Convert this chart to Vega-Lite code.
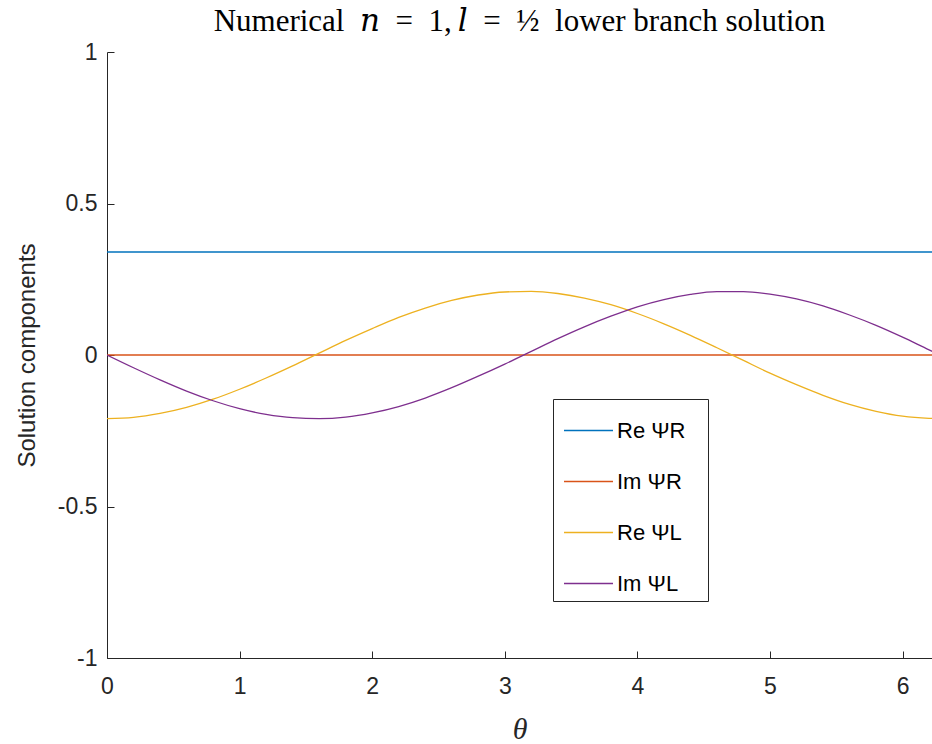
{
  "$schema": "https://vega.github.io/schema/vega-lite/v6.json",
  "width": 825,
  "height": 606,
  "autosize": {"type": "none"},
  "padding": {"left": 107, "top": 52, "right": 0, "bottom": 86},
  "background": "white",
  "config": {
    "view": {"stroke": null},
    "font": "Liberation Sans"
  },
  "title": {
    "text": "Numerical\u2002𝑛\u2002=\u20021,\u2009𝑙\u2002=\u2002½\u2002lower branch solution",
    "font": "Liberation Serif, DejaVu Serif",
    "fontSize": 31,
    "fontWeight": "normal",
    "color": "#000000",
    "anchor": "middle",
    "offset": 3
  },
  "data": {
    "values": [
      {"theta": 0, "value": 0.34, "series": "Re ΨR"},
      {"theta": 6.2832, "value": 0.34, "series": "Re ΨR"},
      {"theta": 0, "value": 0, "series": "Im ΨR"},
      {"theta": 6.2832, "value": 0, "series": "Im ΨR"},
      {"theta": 0, "value": -0.21, "series": "Re ΨL"},
      {"theta": 0.2, "value": -0.206, "series": "Re ΨL"},
      {"theta": 0.4, "value": -0.193, "series": "Re ΨL"},
      {"theta": 0.6, "value": -0.173, "series": "Re ΨL"},
      {"theta": 0.8, "value": -0.146, "series": "Re ΨL"},
      {"theta": 1.0, "value": -0.113, "series": "Re ΨL"},
      {"theta": 1.2, "value": -0.076, "series": "Re ΨL"},
      {"theta": 1.4, "value": -0.036, "series": "Re ΨL"},
      {"theta": 1.6, "value": 0.006, "series": "Re ΨL"},
      {"theta": 1.8, "value": 0.048, "series": "Re ΨL"},
      {"theta": 2.0, "value": 0.087, "series": "Re ΨL"},
      {"theta": 2.2, "value": 0.124, "series": "Re ΨL"},
      {"theta": 2.4, "value": 0.155, "series": "Re ΨL"},
      {"theta": 2.6, "value": 0.180, "series": "Re ΨL"},
      {"theta": 2.8, "value": 0.198, "series": "Re ΨL"},
      {"theta": 3.0, "value": 0.208, "series": "Re ΨL"},
      {"theta": 3.2, "value": 0.210, "series": "Re ΨL"},
      {"theta": 3.4, "value": 0.203, "series": "Re ΨL"},
      {"theta": 3.6, "value": 0.188, "series": "Re ΨL"},
      {"theta": 3.8, "value": 0.166, "series": "Re ΨL"},
      {"theta": 4.0, "value": 0.137, "series": "Re ΨL"},
      {"theta": 4.2, "value": 0.103, "series": "Re ΨL"},
      {"theta": 4.4, "value": 0.065, "series": "Re ΨL"},
      {"theta": 4.6, "value": 0.024, "series": "Re ΨL"},
      {"theta": 4.8, "value": -0.018, "series": "Re ΨL"},
      {"theta": 5.0, "value": -0.060, "series": "Re ΨL"},
      {"theta": 5.2, "value": -0.098, "series": "Re ΨL"},
      {"theta": 5.4, "value": -0.133, "series": "Re ΨL"},
      {"theta": 5.6, "value": -0.163, "series": "Re ΨL"},
      {"theta": 5.8, "value": -0.186, "series": "Re ΨL"},
      {"theta": 6.0, "value": -0.202, "series": "Re ΨL"},
      {"theta": 6.2, "value": -0.209, "series": "Re ΨL"},
      {"theta": 6.2832, "value": -0.21, "series": "Re ΨL"},
      {"theta": 0, "value": 0, "series": "Im ΨL"},
      {"theta": 0.2, "value": -0.042, "series": "Im ΨL"},
      {"theta": 0.4, "value": -0.082, "series": "Im ΨL"},
      {"theta": 0.6, "value": -0.119, "series": "Im ΨL"},
      {"theta": 0.8, "value": -0.151, "series": "Im ΨL"},
      {"theta": 1.0, "value": -0.177, "series": "Im ΨL"},
      {"theta": 1.2, "value": -0.196, "series": "Im ΨL"},
      {"theta": 1.4, "value": -0.207, "series": "Im ΨL"},
      {"theta": 1.6, "value": -0.210, "series": "Im ΨL"},
      {"theta": 1.8, "value": -0.205, "series": "Im ΨL"},
      {"theta": 2.0, "value": -0.191, "series": "Im ΨL"},
      {"theta": 2.2, "value": -0.170, "series": "Im ΨL"},
      {"theta": 2.4, "value": -0.142, "series": "Im ΨL"},
      {"theta": 2.6, "value": -0.108, "series": "Im ΨL"},
      {"theta": 2.8, "value": -0.070, "series": "Im ΨL"},
      {"theta": 3.0, "value": -0.030, "series": "Im ΨL"},
      {"theta": 3.2, "value": 0.012, "series": "Im ΨL"},
      {"theta": 3.4, "value": 0.054, "series": "Im ΨL"},
      {"theta": 3.6, "value": 0.093, "series": "Im ΨL"},
      {"theta": 3.8, "value": 0.128, "series": "Im ΨL"},
      {"theta": 4.0, "value": 0.159, "series": "Im ΨL"},
      {"theta": 4.2, "value": 0.183, "series": "Im ΨL"},
      {"theta": 4.4, "value": 0.200, "series": "Im ΨL"},
      {"theta": 4.6, "value": 0.209, "series": "Im ΨL"},
      {"theta": 4.8, "value": 0.209, "series": "Im ΨL"},
      {"theta": 5.0, "value": 0.201, "series": "Im ΨL"},
      {"theta": 5.2, "value": 0.185, "series": "Im ΨL"},
      {"theta": 5.4, "value": 0.162, "series": "Im ΨL"},
      {"theta": 5.6, "value": 0.132, "series": "Im ΨL"},
      {"theta": 5.8, "value": 0.098, "series": "Im ΨL"},
      {"theta": 6.0, "value": 0.059, "series": "Im ΨL"},
      {"theta": 6.2, "value": 0.017, "series": "Im ΨL"},
      {"theta": 6.2832, "value": 0, "series": "Im ΨL"}
    ]
  },
  "mark": {"type": "line", "interpolate": "monotone", "strokeWidth": 1.3, "clip": true},
  "encoding": {
    "x": {
      "field": "theta",
      "type": "quantitative",
      "scale": {"domain": [0, 6.222], "nice": false, "zero": false},
      "axis": {
        "values": [0, 1, 2, 3, 4, 5, 6],
        "grid": false,
        "domainColor": "#262626",
        "domainWidth": 1,
        "tickColor": "#262626",
        "tickSize": -7,
        "labelPadding": 24,
        "labelFontSize": 23,
        "labelColor": "#262626",
        "labelFlush": false,
        "title": "θ",
        "titleFont": "Liberation Serif",
        "titleFontStyle": "italic",
        "titleFontWeight": "normal",
        "titleFontSize": 30,
        "titleColor": "#262626",
        "titlePadding": 16
      }
    },
    "y": {
      "field": "value",
      "type": "quantitative",
      "scale": {"domain": [-1, 1], "nice": false},
      "axis": {
        "values": [-1, -0.5, 0, 0.5, 1],
        "labelExpr": "toString(datum.value)",
        "grid": false,
        "domainColor": "#262626",
        "domainWidth": 1,
        "tickColor": "#262626",
        "tickSize": -7,
        "labelPadding": 17,
        "labelFontSize": 23,
        "labelColor": "#262626",
        "labelFlush": false,
        "title": "Solution components",
        "titleFontSize": 24,
        "titleFontWeight": "normal",
        "titleColor": "#262626",
        "titlePadding": 18
      }
    },
    "color": {
      "field": "series",
      "type": "nominal",
      "scale": {
        "domain": ["Re ΨR", "Im ΨR", "Re ΨL", "Im ΨL"],
        "range": ["#0072BD", "#D95319", "#EDB120", "#7E2F8E"]
      },
      "legend": {
        "title": null,
        "orient": "none",
        "legendX": 446,
        "legendY": 347,
        "symbolType": "stroke",
        "symbolSize": 2400,
        "symbolStrokeWidth": 1.3,
        "symbolOffset": 4,
        "labelFontSize": 22,
        "labelColor": "#000000",
        "labelOffset": 3,
        "labelExpr": "datum.label + '\u2800'",
        "rowPadding": 14,
        "padding": 6,
        "strokeColor": "#262626",
        "fillColor": "white"
      }
    }
  }
}
